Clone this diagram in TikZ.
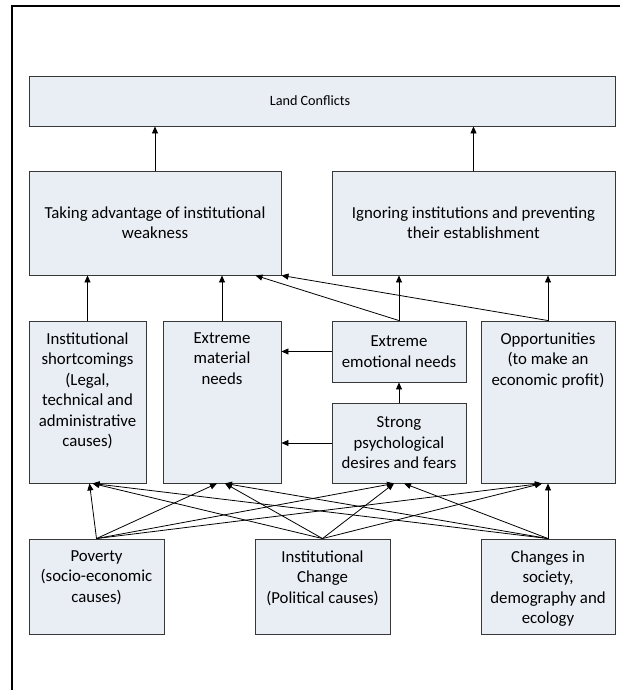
\documentclass[tikz,border=0pt]{standalone}
\usepackage{fontspec}
\setmainfont{Carlito}
\usetikzlibrary{arrows.meta}
\definecolor{boxfill}{RGB}{233,237,244}
\definecolor{boxline}{RGB}{55,55,55}
\begin{document}
\begin{tikzpicture}[x=1pt,y=-1pt,
  box/.style={draw=boxline, fill=boxfill, line width=0.9pt, inner sep=0pt, align=center,
    font=\fontsize{16.8}{20.4}\selectfont},
  toplbl/.style={anchor=north, yshift=-12pt, align=center, inner sep=0pt,
    font=\fontsize{16.8}{20.4}\selectfont},
  conn/.style={draw=black, line width=0.8pt, -{Triangle[length=7pt,width=6pt]}},
  frameline/.style={line width=2pt, draw=black}
]
\useasboundingbox (0,0) rectangle (620,690);
\draw[frameline] (12,690) -- (12,6) -- (620,6);

% top
\node[box, minimum width=586pt, minimum height=50pt,
  label={[inner sep=0pt, xshift=-12pt, font=\fontsize{14.2}{17}\selectfont]center:Land Conflicts}] (land) at (322,101) {};
% second row
\node[box, minimum width=252pt, minimum height=104pt] (take) at (155,223) {Taking advantage of institutional\\weakness};
\node[box, minimum width=283pt, minimum height=104pt] (ign) at (473.5,223) {Ignoring institutions and preventing\\their establishment};
% third row
\node[box, minimum width=117pt, minimum height=162pt,
  label={[toplbl]north:{Institutional\\shortcomings\\(Legal,\\technical and\\administrative\\causes)}}] (inst) at (87.5,402) {};
\node[box, minimum width=118pt, minimum height=162pt,
  label={[toplbl]north:{Extreme\\material\\needs}}] (mat) at (222,402) {};
\node[box, minimum width=134pt, minimum height=61pt] (emo) at (399,351.5) {Extreme\\emotional needs};
\node[box, minimum width=134pt, minimum height=80pt] (psy) at (399,443) {Strong\\psychological\\desires and fears};
\node[box, minimum width=134pt, minimum height=162pt,
  label={[toplbl]north:{Opportunities\\(to make an\\economic profit)}}] (opp) at (548,402) {};
% bottom row
\node[box, minimum width=135pt, minimum height=95pt,
  label={[toplbl]north:{Poverty\\(socio-economic\\causes)}}] (pov) at (96.5,586.5) {};
\node[box, minimum width=135pt, minimum height=95pt,
  label={[toplbl]north:{Institutional\\Change\\(Political causes)}}] (chg) at (322.5,586.5) {};
\node[box, minimum width=134pt, minimum height=95pt,
  label={[toplbl]north:{Changes in\\society,\\demography and\\ecology}}] (soc) at (548,586.5) {};

\coordinate (takeA) at ([xshift=-26pt]take.south east);

% connectors
\draw[conn] (take.north) -- (take.north |- land.south);
\draw[conn] (ign.north) -- (ign.north |- land.south);
\draw[conn] (inst.north) -- (inst.north |- take.south);
\draw[conn] (mat.north) -- (mat.north |- take.south);
\draw[conn] (emo.north) -- (emo.north |- ign.south);
\draw[conn] (opp.north) -- (opp.north |- ign.south);
\draw[conn] (emo.north) -- (takeA);
\draw[conn] (opp.north) -- (take.south east);
\draw[conn] (emo.west) -- (emo.west -| mat.east);
\draw[conn] (psy.west) -- (psy.west -| mat.east);
\draw[conn] (psy.north) -- (emo.south);
% causes to middle row
\draw[conn] (pov.north) -- ([xshift=2pt]inst.south);
\draw[conn] (pov.north) -- ([xshift=-5pt]mat.south);
\draw[conn] (pov.north) -- ([xshift=-5pt]psy.south);
\draw[conn] (pov.north) -- ([xshift=-6pt]opp.south);
\draw[conn] (chg.north) -- ([xshift=5pt]inst.south);
\draw[conn] (chg.north) -- ([xshift=3pt]mat.south);
\draw[conn] (chg.north) -- ([xshift=-5pt]psy.south);
\draw[conn] (chg.north) -- ([xshift=-6pt]opp.south);
\draw[conn] (soc.north) -- ([xshift=5pt]inst.south);
\draw[conn] (soc.north) -- ([xshift=3pt]mat.south);
\draw[conn] (soc.north) -- ([xshift=5pt]psy.south);
\draw[conn] (soc.north) -- (opp.south);
\end{tikzpicture}
\end{document}
